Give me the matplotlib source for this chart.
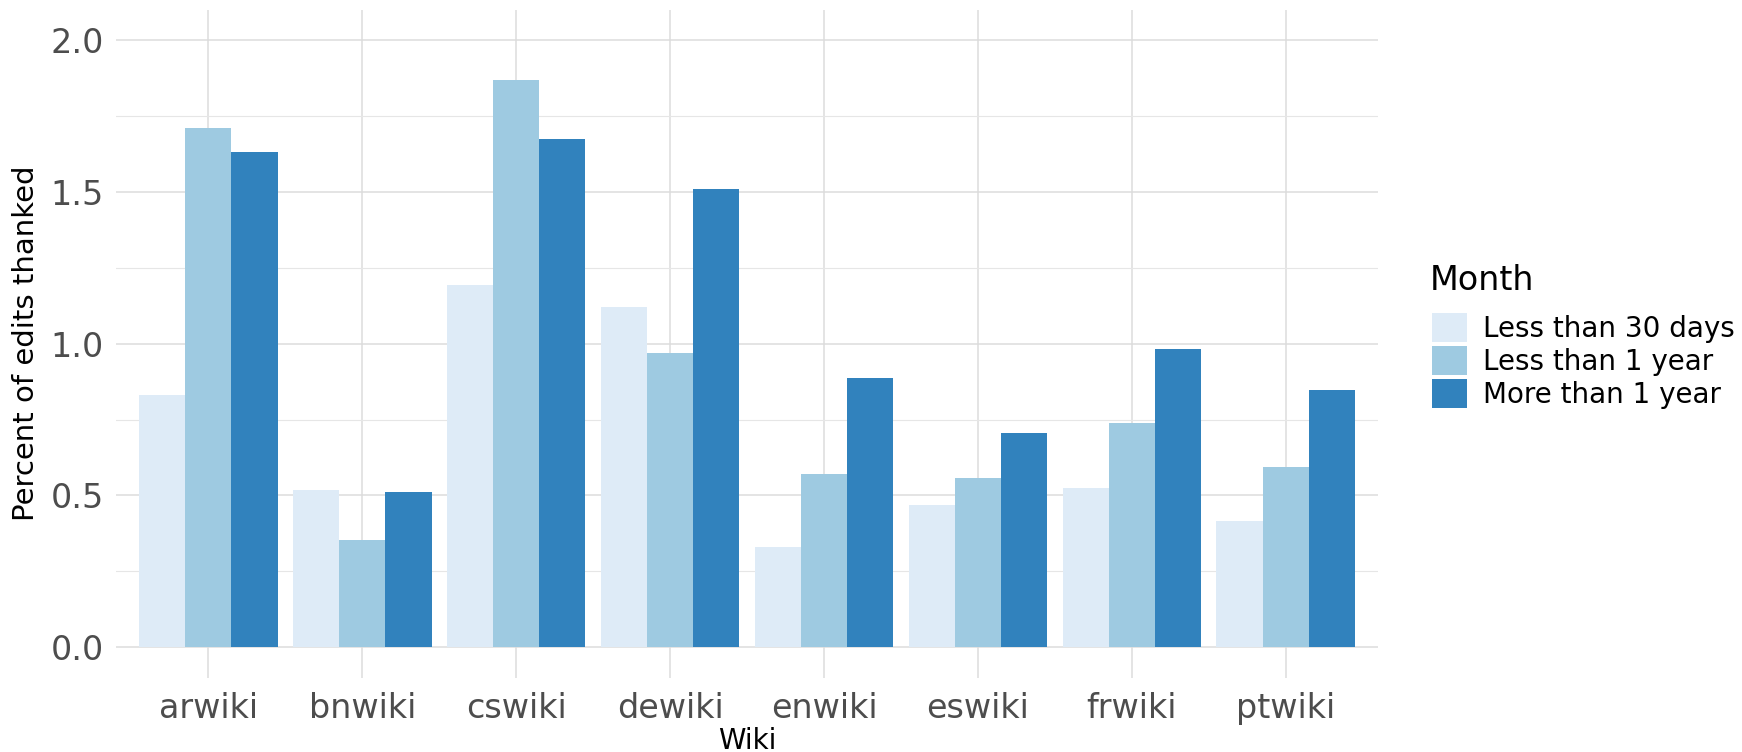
import matplotlib
matplotlib.use('Agg')
import matplotlib.pyplot as plt
import numpy as np

# data
wikis = ['arwiki', 'bnwiki', 'cswiki', 'dewiki', 'enwiki', 'eswiki', 'frwiki', 'ptwiki']
groups = ['Less than 30 days', 'Less than 1 year', 'More than 1 year']
less_30_days = [0.830, 0.518, 1.192, 1.121, 0.330, 0.470, 0.524, 0.417]
less_1_year = [1.710, 0.354, 1.869, 0.969, 0.570, 0.559, 0.739, 0.594]
more_1_year = [1.632, 0.510, 1.675, 1.509, 0.886, 0.707, 0.983, 0.848]
colors = ['#DEEBF7', '#9ECAE1', '#3182BD']

plt.rcParams['font.family'] = ['DejaVu Sans']

W, H = 1742, 752
fig = plt.figure(figsize=(W/100, H/100), dpi=100)
ax = fig.add_axes([116/W, 74.3/H, (1378-116)/W, (742.4-74.3)/H])

x = np.arange(1, len(wikis) + 1)
w = 0.3
series = [less_30_days, less_1_year, more_1_year]
for k in range(3):
    ax.bar(x + (k - 1) * w, series[k], width=w, color=colors[k],
           label=groups[k], zorder=3, linewidth=0)

# grid, ggplot minimal style
ax.set_xlim(0.4, len(wikis) + 0.6)
ax.set_ylim(-0.1, 2.1)
ax.set_yticks([0, 0.5, 1.0, 1.5, 2.0])
ax.set_yticklabels(['0.0', '0.5', '1.0', '1.5', '2.0'])
ax.set_yticks([0.25, 0.75, 1.25, 1.75], minor=True)
ax.set_xticks(x)
ax.set_xticklabels(wikis)
ax.grid(True, which='major', color='#DCDCDC', linewidth=1.1, zorder=0)
ax.grid(True, which='minor', axis='y', color='#E6E6E6', linewidth=0.8, zorder=0)
for s in ax.spines.values():
    s.set_visible(False)
ax.tick_params(axis='both', which='both', length=0, labelsize=24, labelcolor='#4D4D4D')
ax.tick_params(axis='y', pad=9)
ax.tick_params(axis='x', pad=10)

ax.set_xlabel('Wiki', fontsize=20)
ax.xaxis.set_label_coords(0.5, (H - 727 - 74.3) / 668.1)
ax.set_ylabel('Percent of edits thanked', fontsize=21)
ax.yaxis.set_label_coords((40 - 116) / 1262, 0.5)

# legend: title drawn separately so the gap below it can be set
fig.text(1430/W, 1 - 281/H, 'Month', fontsize=24, ha='left', va='center')
leg = ax.legend(loc='upper left', bbox_to_anchor=(1432/W, 1 - 313/H),
                bbox_transform=fig.transFigure, frameon=False, fontsize=20,
                handlelength=1.25, handleheight=1.25, handletextpad=0.6,
                labelspacing=0.1, borderpad=0, borderaxespad=0)

fig.savefig('out.png', dpi=100)
